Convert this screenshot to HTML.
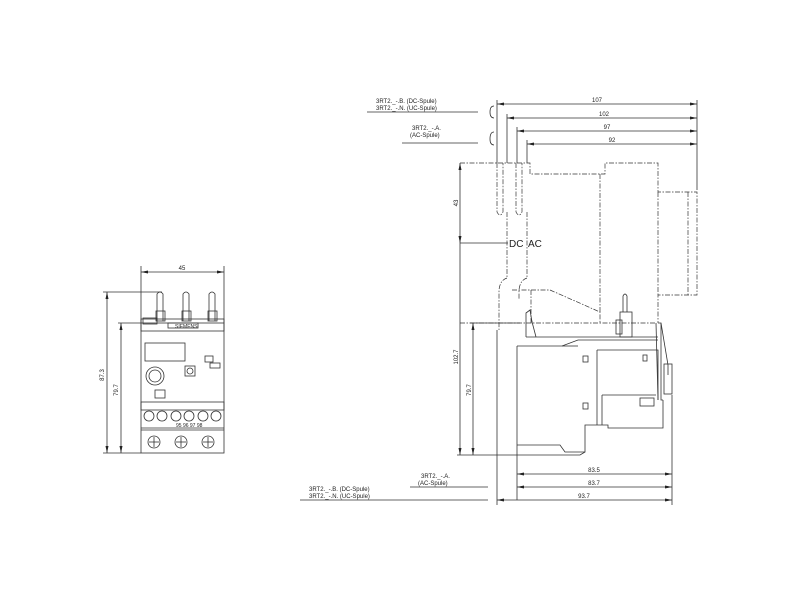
<!DOCTYPE html>
<html><head><style>html,body{margin:0;padding:0;background:#fff;}svg{display:block;}
text{font-family:"Liberation Sans",sans-serif;fill:#222;}</style></head>
<body>
<svg width="800" height="600" viewBox="0 0 800 600" xmlns="http://www.w3.org/2000/svg">
<defs>
<marker id="a" markerWidth="8" markerHeight="6" refX="7" refY="3" orient="auto-start-reverse" markerUnits="userSpaceOnUse"><path d="M0,1.5 L7,3 L0,4.5z" fill="#222"/></marker>
</defs>
<g stroke="#333" stroke-width="0.8" fill="none">
<line x1="141" y1="272" x2="224" y2="272" marker-start="url(#a)" marker-end="url(#a)"/>
<line x1="141" y1="266" x2="141" y2="323"/><line x1="224" y1="266" x2="224" y2="323"/>
<line x1="107" y1="292" x2="107" y2="453" marker-start="url(#a)" marker-end="url(#a)"/>
<line x1="103" y1="292" x2="162" y2="292"/>
<line x1="121" y1="323" x2="121" y2="453" marker-start="url(#a)" marker-end="url(#a)"/>
<line x1="118" y1="323" x2="141" y2="323"/>
<line x1="103" y1="453" x2="141" y2="453"/>
<rect x="141" y="323" width="83" height="130"/>
<rect x="141" y="319" width="83" height="12"/>
<rect x="143" y="318" width="14" height="6"/>
<path d="M157,321 V294 Q160,290 163,294 V321"/><rect x="156" y="311" width="9" height="10"/>
<path d="M183,321 V294 Q186,290 189,294 V321"/><rect x="182" y="311" width="9" height="10"/>
<path d="M209,321 V294 Q212,290 215,294 V321"/><rect x="208" y="311" width="9" height="10"/>
<rect x="168" y="323" width="30" height="5"/>
<rect x="145" y="343" width="40" height="18"/>
<rect x="205" y="356" width="8" height="6"/><rect x="210" y="363" width="10" height="5"/>
<circle cx="155" cy="376" r="9"/><circle cx="155" cy="376" r="6"/>
<rect x="185" y="366" width="10" height="10"/><circle cx="190" cy="371" r="3"/>
<rect x="155" y="390" width="10" height="8"/>
<rect x="141" y="402" width="83" height="8"/>
<g>
<circle cx="149" cy="416" r="5"/><circle cx="162" cy="416" r="5"/><circle cx="176" cy="416" r="5"/>
<circle cx="189" cy="416" r="5"/><circle cx="203" cy="416" r="5"/><circle cx="216" cy="416" r="5"/>
</g>
<line x1="141" y1="428" x2="224" y2="428"/>
<line x1="141" y1="430" x2="224" y2="430"/>
<circle cx="154" cy="442" r="6"/><circle cx="181" cy="442" r="6"/><circle cx="208" cy="442" r="6"/>
<line x1="154" y1="437" x2="154" y2="447"/><line x1="149" y1="442" x2="159" y2="442"/>
<line x1="181" y1="437" x2="181" y2="447"/><line x1="176" y1="442" x2="186" y2="442"/>
<line x1="208" y1="437" x2="208" y2="447"/><line x1="203" y1="442" x2="213" y2="442"/>

<line x1="497" y1="104" x2="697" y2="104" marker-start="url(#a)" marker-end="url(#a)"/>
<line x1="507" y1="118" x2="697" y2="118" marker-start="url(#a)" marker-end="url(#a)"/>
<line x1="517" y1="131" x2="697" y2="131" marker-start="url(#a)" marker-end="url(#a)"/>
<line x1="527" y1="144" x2="697" y2="144" marker-start="url(#a)" marker-end="url(#a)"/>
<line x1="697" y1="100" x2="697" y2="190"/>
<line x1="497" y1="100" x2="497" y2="163"/><line x1="507" y1="114" x2="507" y2="163"/>
<line x1="517" y1="127" x2="517" y2="163"/><line x1="527" y1="140" x2="527" y2="163"/>
<line x1="367" y1="112" x2="478" y2="112"/>
<line x1="402" y1="143" x2="478" y2="143"/>
<path d="M494,106 Q490,106 490,112 Q490,118 494,118"/>
<path d="M494,132 Q490,132 490,139 Q490,145 494,145"/>
<g stroke-dasharray="5,1.5,1.5,1.5" stroke-width="0.7">
<path d="M460,163 H530 V174 H605 V163 H658 V192 H697 V295 H658 V323"/>
<line x1="600" y1="174" x2="600" y2="312"/>
<line x1="688" y1="192" x2="688" y2="295"/>
<line x1="658" y1="192" x2="658" y2="295"/>
<path d="M497,163 V212 Q500,218 503,212 V163"/><path d="M516,163 V212 Q519,218 522,212 V163"/>
<line x1="507" y1="212" x2="507" y2="278"/><line x1="527" y1="212" x2="527" y2="278"/>
<path d="M507,278 Q500,280 499,290 V330"/><path d="M527,278 Q520,280 519,290 V300"/>
<path d="M512,290 H550 L600,312 V323"/>
<line x1="531" y1="290" x2="531" y2="323"/>
<line x1="460" y1="323" x2="656" y2="323"/>
</g>
<line x1="460" y1="243" x2="508" y2="243"/>
<line x1="460" y1="163" x2="460" y2="243" marker-start="url(#a)" marker-end="url(#a)"/>
<line x1="460" y1="243" x2="460" y2="455" marker-end="url(#a)"/>
<line x1="473" y1="323" x2="473" y2="455" marker-start="url(#a)" marker-end="url(#a)"/>
<line x1="470" y1="323" x2="520" y2="323"/>
<line x1="457" y1="455" x2="517" y2="455"/>
<path d="M517,346 V500"/>
<path d="M517,346 H562 L578,340 H658"/>
<path d="M526,337 V313 L530,310 L532,322"/>
<path d="M526,337 H658"/>
<line x1="531" y1="318" x2="536" y2="337"/>
<line x1="562" y1="346" x2="578" y2="346"/>
<rect x="620" y="312" width="12" height="25"/>
<path d="M623,312 V296 Q625,292 627,296 V312"/>
<rect x="616" y="320" width="6" height="14"/>
<path d="M597,350 H658 V400"/>
<path d="M597,350 V425"/>
<path d="M602,395 H656 M602,395 V425"/>
<rect x="640" y="398" width="14" height="8"/>
<line x1="656" y1="323" x2="658" y2="400"/>
<path d="M658,323 L661,323 V400 H663"/>
<path d="M661,323 L668,365 V375"/>
<rect x="664" y="364" width="8" height="30"/>
<path d="M663,400 V428 H608 V425 H597"/>
<path d="M517,445 H560 L565,452 H585 V425 H597"/>
<path d="M517,455 H580 L585,452"/>
<rect x="583" y="356" width="5" height="6"/><rect x="583" y="403" width="5" height="6"/>
<rect x="643" y="355" width="4" height="6"/>
<line x1="517" y1="474" x2="672" y2="474" marker-start="url(#a)" marker-end="url(#a)"/>
<line x1="517" y1="487" x2="672" y2="487" marker-start="url(#a)" marker-end="url(#a)"/>
<line x1="497" y1="500" x2="672" y2="500" marker-start="url(#a)" marker-end="url(#a)"/>
<line x1="497" y1="330" x2="497" y2="505"/>
<line x1="672" y1="395" x2="672" y2="505"/>
<line x1="410" y1="487" x2="488" y2="487"/>
<line x1="300" y1="500" x2="488" y2="500"/>
</g>
<g font-size="6">
<text x="182" y="270" text-anchor="middle">45</text>
<text x="175" y="328" font-size="5">SIEMENS</text>
<text x="104" y="375" transform="rotate(-90 104 375)" text-anchor="middle">87.3</text>
<text x="118" y="390" transform="rotate(-90 118 390)" text-anchor="middle">79.7</text>
<text x="176" y="427" font-size="5">95 96 97 98</text>
<text x="597" y="102" text-anchor="middle">107</text>
<text x="604" y="116" text-anchor="middle">102</text>
<text x="607" y="129" text-anchor="middle">97</text>
<text x="612" y="142" text-anchor="middle">92</text>
<text x="376" y="103">3RT2._-.B. (DC-Spule)</text>
<text x="376" y="110">3RT2._-.N. (UC-Spule)</text>
<text x="412" y="130">3RT2._-.A.</text>
<text x="410" y="137">(AC-Spule)</text>
<text x="458" y="203" transform="rotate(-90 458 203)" text-anchor="middle">43</text>
<text x="458" y="357" transform="rotate(-90 458 357)" text-anchor="middle">102.7</text>
<text x="471" y="390" transform="rotate(-90 471 390)" text-anchor="middle">79.7</text>
<text x="594" y="472" text-anchor="middle">83.5</text>
<text x="594" y="485" text-anchor="middle">83.7</text>
<text x="584" y="498" text-anchor="middle">93.7</text>
<text x="421" y="478">3RT2._-.A.</text>
<text x="418" y="485">(AC-Spule)</text>
<text x="309" y="491">3RT2._-.B. (DC-Spule)</text>
<text x="309" y="498">3RT2._-.N. (UC-Spule)</text>
</g>
<text x="509" y="247" font-size="10">DC</text>
<text x="528" y="247" font-size="10">AC</text>
</svg>
</body></html>
